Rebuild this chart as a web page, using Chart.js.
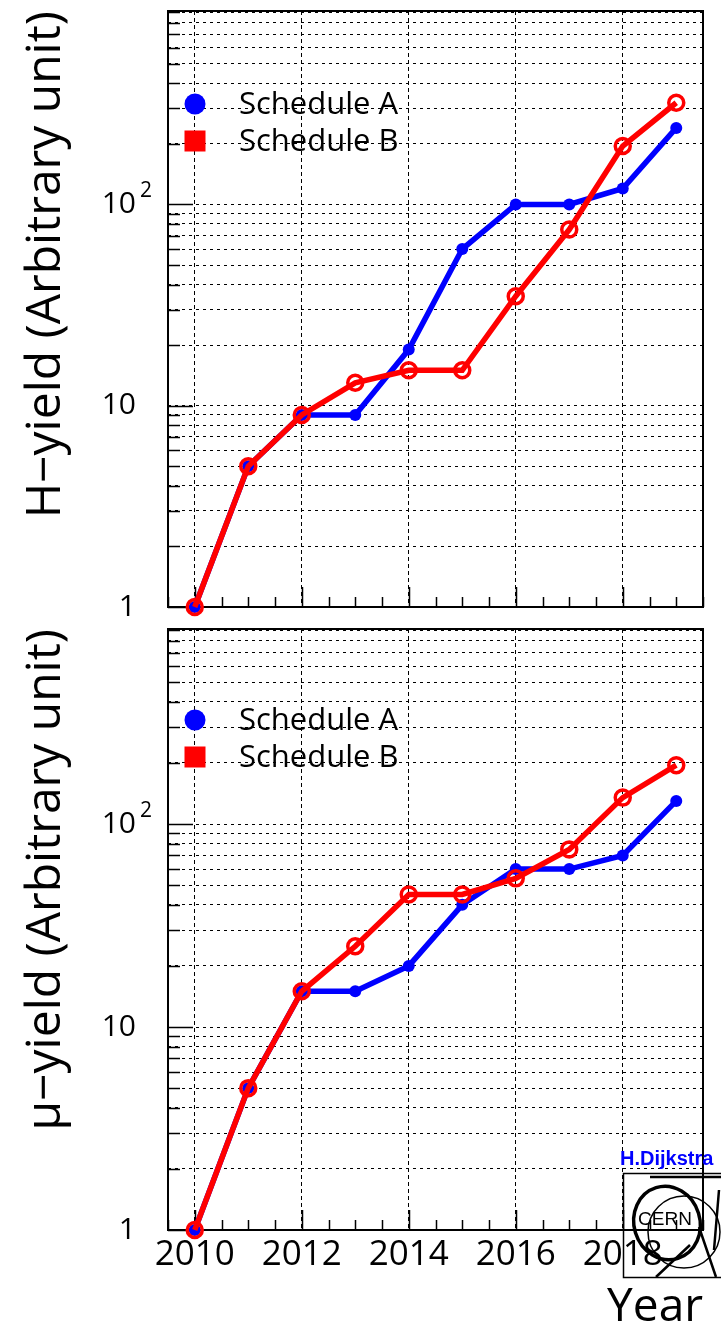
<!DOCTYPE html>
<html>
<head>
<meta charset="utf-8">
<script src="https://cdn.jsdelivr.net/npm/chart.js@4"></script>
<style>
  html, body { margin: 0; padding: 0; background: #fff; }
  #wrap { position: relative; width: 721px; height: 1325px; overflow: hidden; background: #fff; }
  #hChart { position: absolute; left: 0; top: 0; }
  #muChart { position: absolute; left: 0; top: 618px; }
</style>
</head>
<body>
<div id="wrap">
  <canvas id="hChart" width="721" height="618"></canvas>
  <canvas id="muChart" width="721" height="707"></canvas>
</div>
<script>
// Years on the horizontal axis
const years = [2010, 2011, 2012, 2013, 2014, 2015, 2016, 2017, 2018, 2019];

// H-yield per schedule (arbitrary units)
const hYieldA = [1, 5, 9, 9, 19, 60, 100, 100, 120, 240];
const hYieldB = [1, 5, 9, 13, 15, 15, 35, 75, 195, 320];

// mu-yield per schedule (arbitrary units)
const muYieldA = [1, 5, 15, 15, 20, 40, 60, 60, 70, 130];
const muYieldB = [1, 5, 15, 25, 45, 45, 54, 75, 135, 195];

const seriesLabels = ['Schedule A', 'Schedule B'];

// Labelled year ticks and the log-axis decades
const yearTicks = [2010, 2012, 2014, 2016, 2018];
const decadeTicks = [1, 10, 100];
const decadeLabels = ['1', '10', '10'];   // the exponent of 10^2 is drawn as a superscript
const logGridValues = [2, 3, 4, 5, 6, 7, 8, 9, 10, 20, 30, 40, 50, 60, 70, 80, 90, 100,
                       200, 300, 400, 500, 600, 700, 800, 900];

const X_MIN = 2009.5, X_MAX = 2019.5;
const Y_MIN = 1, Y_MAX = 914;
const FONT = '"Open Sans", Lato, "DejaVu Sans", sans-serif';

function toPoints(values) {
  return years.map((yr, i) => ({ x: yr, y: values[i] }));
}

// Frame of the plot area plus inward-pointing tick marks
const frameAndTicks = {
  id: 'frameAndTicks',
  beforeDatasetsDraw(chart) {
    const { ctx, chartArea: a, scales: { x, y } } = chart;
    ctx.save();
    ctx.strokeStyle = '#000';
    ctx.lineWidth = 1.5;
    ctx.beginPath();
    for (let v = X_MIN; v <= X_MAX + 1e-9; v += 0.5) {
      const px = Math.round(x.getPixelForValue(v)) + 0.5;
      const len = yearTicks.includes(v) ? 20 : 10;
      ctx.moveTo(px, a.bottom);
      ctx.lineTo(px, a.bottom - len);
    }
    [1].concat(logGridValues).forEach(v => {
      const py = Math.round(y.getPixelForValue(v)) + 0.5;
      const len = decadeTicks.includes(v) ? 25 : 12;
      ctx.moveTo(a.left, py);
      ctx.lineTo(a.left + len, py);
    });
    ctx.stroke();
    ctx.lineWidth = 2;
    ctx.strokeRect(a.left, a.top, a.right - a.left, a.bottom - a.top);
    ctx.restore();
  }
};

// Legend drawn inside the plot area, plus the exponent of the 10^2 label
const innerLegend = {
  id: 'innerLegend',
  afterDraw(chart, args, opts) {
    const { ctx, scales: { y } } = chart;
    const ds = chart.data.datasets;
    ctx.save();
    // circle marker for the first series
    ctx.fillStyle = ds[0].borderColor;
    ctx.beginPath();
    ctx.arc(195, opts.top, 10.5, 0, Math.PI * 2);
    ctx.fill();
    // square marker for the second series
    ctx.fillStyle = ds[1].borderColor;
    ctx.fillRect(184.5, opts.top + 37 - 10.5, 21, 21);
    ctx.fillStyle = '#000';
    ctx.font = '31px ' + FONT;
    ctx.textAlign = 'left';
    ctx.textBaseline = 'middle';
    ctx.fillText(ds[0].label, 239, opts.top + 1);
    ctx.fillText(ds[1].label, 239, opts.top + 38);
    // exponent for the 10^2 tick label
    ctx.font = '21px ' + FONT;
    ctx.fillText('2', 140, y.getPixelForValue(100) - 13);
    ctx.restore();
  }
};

// Author credit and laboratory logo in the lower right corner
const creditMark = {
  id: 'creditMark',
  afterDraw(chart) {
    const { ctx } = chart;
    const oy = -618; // page coordinates to canvas coordinates
    ctx.save();
    ctx.fillStyle = '#0000ff';
    ctx.font = 'bold 20px "Liberation Sans", Arial, sans-serif';
    ctx.textAlign = 'left';
    ctx.textBaseline = 'alphabetic';
    ctx.fillText('H.Dijkstra', 620, 1165 + oy);

    ctx.strokeStyle = '#000';
    ctx.lineWidth = 1.5;
    ctx.strokeRect(623.5, 1173.5 + oy, 130, 104);
    // outer accelerator ring
    ctx.lineWidth = 1.5;
    ctx.beginPath();
    ctx.arc(684, 1232 + oy, 36, 0, Math.PI * 2);
    ctx.stroke();
    // bold ring around the name
    ctx.lineWidth = 3.5;
    ctx.beginPath();
    ctx.ellipse(667, 1223 + oy, 33, 37, -0.3, 0, Math.PI * 2);
    ctx.stroke();
    ctx.lineWidth = 2.5;
    ctx.beginPath();
    ctx.moveTo(650, 1177 + oy); ctx.lineTo(721, 1177 + oy);
    ctx.moveTo(656, 1277 + oy); ctx.lineTo(690, 1245 + oy);
    ctx.moveTo(699, 1227 + oy); ctx.lineTo(716, 1277 + oy);
    ctx.moveTo(719, 1190 + oy); ctx.lineTo(714, 1250 + oy);
    ctx.stroke();
    ctx.fillStyle = '#000';
    ctx.font = '19px "Liberation Sans", Arial, sans-serif';
    ctx.textAlign = 'center';
    ctx.textBaseline = 'middle';
    ctx.fillText('CERN', 665, 1220 + oy);
    ctx.restore();
  }
};

function buildChart(canvasId, valuesA, valuesB, yTitle, isBottom, legendTop) {
  const plugins = [frameAndTicks, innerLegend];
  if (isBottom) plugins.push(creditMark);
  return new Chart(document.getElementById(canvasId), {
    type: 'line',
    data: {
      datasets: [
        {
          label: seriesLabels[0],
          data: toPoints(valuesA),
          order: 1,
          borderColor: '#0000ff',
          backgroundColor: '#0000ff',
          borderWidth: 5.5,
          pointRadius: 6,
          pointBorderWidth: 0,
          pointBackgroundColor: '#0000ff',
          tension: 0,
          clip: false
        },
        {
          label: seriesLabels[1],
          data: toPoints(valuesB),
          order: 0,
          borderColor: '#ff0000',
          backgroundColor: '#ff0000',
          borderWidth: 5.5,
          pointRadius: 7.5,
          pointBorderWidth: 3.5,
          pointBorderColor: '#ff0000',
          pointBackgroundColor: 'rgba(0,0,0,0)',
          tension: 0,
          clip: false
        }
      ]
    },
    options: {
      responsive: false,
      animation: false,
      devicePixelRatio: 1,
      layout: { padding: { top: 5, right: 18, left: 0, bottom: 0 } },
      plugins: {
        legend: { display: false },
        tooltip: { enabled: false },
        innerLegend: { top: legendTop }
      },
      scales: {
        x: {
          type: 'linear',
          min: X_MIN,
          max: X_MAX,
          afterBuildTicks: s => { s.ticks = yearTicks.map(v => ({ value: v })); },
          afterFit: s => {
            s.height = isBottom ? 95 : 5;
            s.paddingLeft = 0; s.paddingRight = 0;
          },
          grid: { color: '#000', lineWidth: 1, drawTicks: false },
          border: { display: false, dash: [4, 3] },
          ticks: {
            display: isBottom,
            autoSkip: false,
            maxRotation: 0,
            padding: 4,
            color: '#000',
            font: { family: FONT, size: 35 },
            callback: v => String(v)
          },
          title: {
            display: isBottom,
            text: 'Year',
            align: 'end',
            color: '#000',
            font: { family: FONT, size: 46, lineHeight: 0.75 },
            padding: { top: 0, bottom: 0 }
          }
        },
        y: {
          type: 'logarithmic',
          min: Y_MIN,
          max: Y_MAX,
          afterBuildTicks: s => {
            s.ticks = [1].concat(logGridValues).map(v => ({ value: v }));
          },
          afterFit: s => {
            s.width = 168;
            s.paddingTop = 0; s.paddingBottom = 0;
          },
          grid: {
            color: ctx => (ctx.tick && ctx.tick.value === 1) ? 'rgba(0,0,0,0)' : '#000',
            lineWidth: 1,
            drawTicks: false
          },
          border: { display: false, dash: [3, 4] },
          ticks: {
            autoSkip: false,
            padding: 32,
            color: '#000',
            font: { family: FONT, size: 30 },
            callback: v => {
              const k = decadeTicks.indexOf(v);
              return k >= 0 ? decadeLabels[k] : '';
            }
          },
          title: {
            display: true,
            text: yTitle,
            align: 'end',
            color: '#000',
            font: { family: FONT, size: 48 },
            padding: { top: 18, bottom: 0 }
          }
        }
      }
    },
    plugins: plugins
  });
}

buildChart('hChart', hYieldA, hYieldB, 'H\u2212yield (Arbitrary unit)', false, 104);
buildChart('muChart', muYieldA, muYieldB, '\u03bc\u2212yield (Arbitrary unit)', true, 102);
</script>
</body>
</html>
